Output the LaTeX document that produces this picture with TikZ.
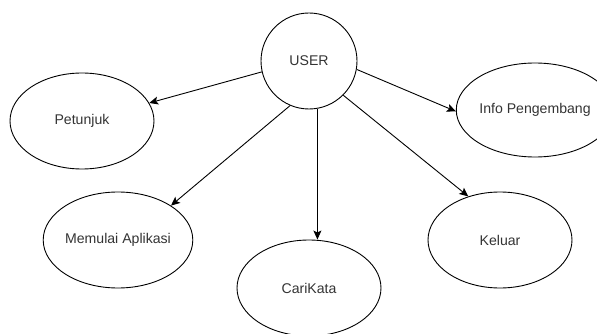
\documentclass[tikz,border=0pt]{standalone}
\usepackage{fontspec}
\setmainfont{Liberation Sans}
\usetikzlibrary{shapes.geometric,arrows.meta}
\definecolor{txt}{HTML}{333333}
\tikzset{
  uc/.style={ellipse,draw=black,line width=0.9pt,inner sep=0pt,
    minimum width=144pt,minimum height=96pt,
    font=\fontsize{14.1pt}{16pt}\selectfont,text=txt},
  arr/.style={line width=0.9pt,draw=black,
    -{Stealth[length=9pt,width=8pt,inset=2pt]}}
}
\begin{document}
\begin{tikzpicture}[x=1pt,y=-1pt]
\useasboundingbox (0,0) rectangle (597,334);
\node[uc,minimum width=96pt] (user) at (309,61) {USER};
\node[uc] (pet) at (82,121) {Petunjuk};
\node[uc,minimum height=94pt] (info) at (535,110) {Info Pengembang};
\node[uc] (mul) at (118,240) {Memulai Aplikasi};
\node[uc] (cari) at (309,288) {CariKata};
\node[uc] (kel) at (500,240) {Keluar};
\draw[arr] (user.193) -- (pet.15);
\draw[arr] (user.247) -- (mul.33);
\draw[arr] (user.-80) -- (user.-80 |- cari.north);
\draw[arr] (user.350) -- (info.181);
\draw[arr] (user.315) -- (kel.126);
\end{tikzpicture}
\end{document}
